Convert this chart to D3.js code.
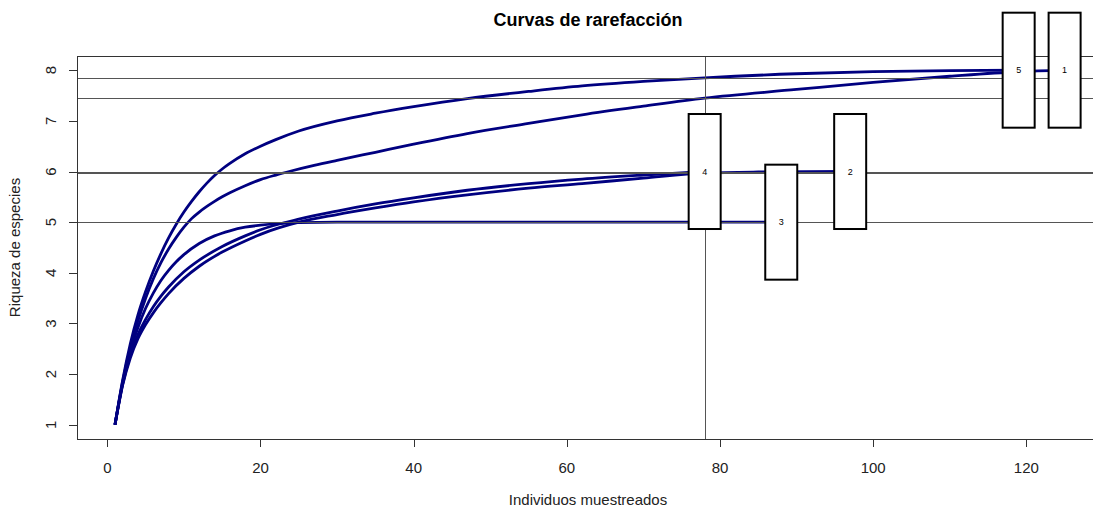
<!DOCTYPE html>
<html>
<head>
<meta charset="utf-8">
<script src="https://cdn.jsdelivr.net/npm/d3@7"></script>
<style>
  body { margin: 0; background: #fff; }
  text { font-family: "Liberation Sans", Arial, sans-serif; }
</style>
</head>
<body>
<div id="chart"></div>
<script>
// rarefied richness: sample size (n) and species (S) per site
const site1N = [1, 2, 3, 4, 5, 6, 7, 8, 9, 10, 11, 12, 13, 14, 15, 16, 18, 20, 22, 24, 27, 30, 35, 40, 47, 55, 62, 70, 78, 90, 100, 110, 119, 125];
const site1S = [1, 1.85, 2.52, 3.05, 3.5, 3.88, 4.2, 4.47, 4.7, 4.9, 5.07, 5.2, 5.31, 5.41, 5.5, 5.58, 5.72, 5.84, 5.93, 6.01, 6.12, 6.22, 6.38, 6.54, 6.75, 6.95, 7.12, 7.29, 7.45, 7.62, 7.76, 7.88, 7.97, 8];
const site2N = [1, 2, 3, 4, 5, 6, 7, 8, 10, 12, 15, 18, 20, 25, 30, 35, 40, 47, 55, 62, 70, 78, 85, 97];
const site2S = [1, 1.78, 2.32, 2.7, 2.98, 3.21, 3.41, 3.59, 3.89, 4.13, 4.41, 4.63, 4.76, 5.0, 5.15, 5.28, 5.4, 5.54, 5.67, 5.76, 5.87, 5.97, 5.99, 6];
const site3N = [1, 2, 3, 4, 5, 6, 7, 8, 9, 10, 12, 14, 16, 18, 20, 25, 30, 88];
const site3S = [1, 1.82, 2.45, 2.92, 3.3, 3.6, 3.85, 4.05, 4.22, 4.36, 4.58, 4.73, 4.83, 4.9, 4.94, 4.99, 5, 5];
const site4N = [1, 2, 3, 4, 5, 6, 7, 8, 10, 12, 15, 18, 20, 25, 30, 35, 40, 47, 55, 62, 70, 78];
const site4S = [1, 1.8, 2.37, 2.78, 3.08, 3.33, 3.54, 3.72, 4.02, 4.25, 4.52, 4.73, 4.85, 5.06, 5.22, 5.36, 5.48, 5.63, 5.76, 5.85, 5.93, 6];
const site5N = [1, 2, 3, 4, 5, 6, 7, 8, 9, 10, 11, 12, 13, 14, 15, 16, 18, 20, 22, 25, 30, 35, 40, 47, 55, 62, 70, 78, 90, 100, 110, 119];
const site5S = [1, 1.88, 2.6, 3.17, 3.63, 4.03, 4.38, 4.69, 4.96, 5.2, 5.41, 5.6, 5.77, 5.92, 6.05, 6.16, 6.35, 6.5, 6.63, 6.8, 7.0, 7.15, 7.28, 7.44, 7.58, 7.69, 7.78, 7.85, 7.93, 7.97, 7.99, 8];

const siteNames = ["1", "2", "3", "4", "5"];
const sampleSize = 78;
const rarefied = [7.45, 5.97, 5, 6, 7.85];
const xTicks = [0, 20, 40, 60, 80, 100, 120];
const yTicks = [1, 2, 3, 4, 5, 6, 7, 8];

const sites = [
  { name: siteNames[0], n: site1N, s: site1S },
  { name: siteNames[1], n: site2N, s: site2S },
  { name: siteNames[2], n: site3N, s: site3S },
  { name: siteNames[3], n: site4N, s: site4S },
  { name: siteNames[4], n: site5N, s: site5S }
];

const svg = d3.select("#chart")
  .append("svg")
  .attr("width", 1093)
  .attr("height", 510);

const x = d3.scaleLinear().domain([-3.96, 129.96]).range([77, 1102.6]);
const y = d3.scaleLinear().domain([0.72, 8.28]).range([439, 56]);

// curves
const line = d3.line().x(d => x(d[0])).y(d => y(d[1])).curve(d3.curveMonotoneX);
svg.append("g")
  .selectAll("path")
  .data(sites)
  .join("path")
  .attr("d", d => line(d.n.map((v, i) => [v, d.s[i]])))
  .attr("fill", "none")
  .attr("stroke", "#000080")
  .attr("stroke-width", 2.8)
  .attr("stroke-linejoin", "round");

// reference lines at the smallest sample
svg.append("g")
  .selectAll("line")
  .data(rarefied)
  .join("line")
  .attr("x1", 77).attr("x2", 1102.6)
  .attr("y1", d => Math.round(y(d)) + 0.5).attr("y2", d => Math.round(y(d)) + 0.5)
  .attr("stroke", "#555")
  .attr("stroke-width", 1);
svg.append("line")
  .attr("x1", Math.round(x(sampleSize)) + 0.5).attr("x2", Math.round(x(sampleSize)) + 0.5)
  .attr("y1", 56).attr("y2", 439)
  .attr("stroke", "#555")
  .attr("stroke-width", 1);

// frame
svg.append("rect")
  .attr("x", 77.5).attr("y", 56.5)
  .attr("width", 1030).attr("height", 383)
  .attr("fill", "none")
  .attr("stroke", "#333");

// site labels in boxes at curve ends
const ends = svg.append("g")
  .selectAll("g")
  .data(sites)
  .join("g")
  .attr("transform", d => `translate(${x(d.n[d.n.length - 1])},${y(d.s[d.s.length - 1])})`);
ends.append("rect")
  .attr("x", -16).attr("y", -57.5)
  .attr("width", 32).attr("height", 115)
  .attr("fill", "#fff")
  .attr("stroke", "#000")
  .attr("stroke-width", 2);
ends.append("text")
  .attr("text-anchor", "middle")
  .attr("dy", "0.35em")
  .style("font-size", "9px")
  .text(d => d.name);

// x axis
const xAxis = svg.append("g");
xAxis.selectAll("line")
  .data(xTicks)
  .join("line")
  .attr("x1", d => Math.round(x(d)) + 0.5).attr("x2", d => Math.round(x(d)) + 0.5)
  .attr("y1", 439).attr("y2", 447)
  .attr("stroke", "#333");
xAxis.selectAll("text")
  .data(xTicks)
  .join("text")
  .attr("x", d => x(d))
  .attr("y", 473)
  .attr("text-anchor", "middle")
  .attr("fill", "#222")
  .style("font-size", "15px")
  .text(d => d);

// y axis
const yAxis = svg.append("g");
yAxis.selectAll("line")
  .data(yTicks)
  .join("line")
  .attr("x1", 69).attr("x2", 77)
  .attr("y1", d => Math.round(y(d)) + 0.5).attr("y2", d => Math.round(y(d)) + 0.5)
  .attr("stroke", "#333");
yAxis.selectAll("text")
  .data(yTicks)
  .join("text")
  .attr("transform", d => `translate(55.5,${y(d)}) rotate(-90)`)
  .attr("text-anchor", "middle")
  .attr("fill", "#222")
  .style("font-size", "15px")
  .text(d => d);

// titles
svg.append("text")
  .attr("x", 588).attr("y", 26)
  .attr("text-anchor", "middle")
  .style("font-size", "18px")
  .style("font-weight", "bold")
  .text("Curvas de rarefacción");
svg.append("text")
  .attr("x", 588).attr("y", 505)
  .attr("text-anchor", "middle")
  .attr("fill", "#222")
  .style("font-size", "15px")
  .text("Individuos muestreados");
svg.append("text")
  .attr("transform", `translate(20,${(56 + 439) / 2}) rotate(-90)`)
  .attr("text-anchor", "middle")
  .attr("fill", "#222")
  .style("font-size", "15px")
  .text("Riqueza de especies");
</script>
</body>
</html>
